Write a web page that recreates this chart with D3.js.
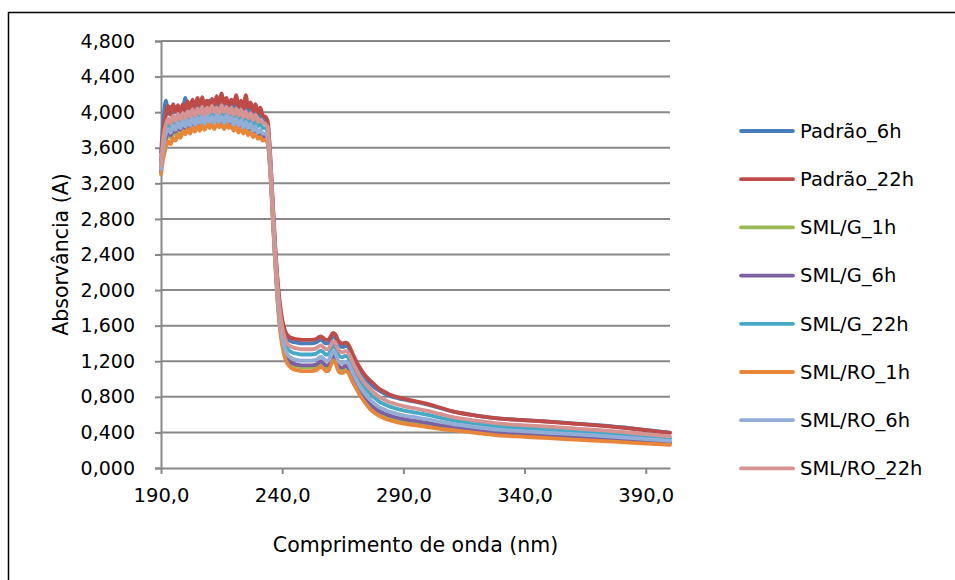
<!DOCTYPE html>
<html>
<head>
<meta charset="utf-8">
<script src="https://cdn.jsdelivr.net/npm/d3@7"></script>
<style>
  html, body { margin: 0; padding: 0; background: #fff; }
  svg { display: block; }
  text { font-family: "DejaVu Sans", sans-serif; fill: #000; }
</style>
</head>
<body>
<svg id="chart" width="955" height="580"></svg>
<script>
// Wavelength grid (nm), shared by every series
const wavelengths = [
  190,191,192,193,194,195,196,197,198,199,200,201,202,203,204,205,206,207,208,209,
  210,211,212,213,214,215,216,217,218,219,220,221,222,223,224,225,226,227,228,229,
  230,231,232,233,234,
  235,236,237,238,239,240,241,242,244,246,248,250,252,254,
  255,256,257,258,259,260,261,262,263,264,265,266,267,268,269,270,
  272,274,276,278,280,282,284,286,290,295,300,305,310,
  320,330,340,350,360,370,380,390,400
];

const seriesNames = ["Padrão_6h","Padrão_22h","SML/G_1h","SML/G_6h","SML/G_22h","SML/RO_1h","SML/RO_6h","SML/RO_22h"];
const seriesColors = ["#4A7EBB","#BE4B48","#98B954","#7D60A0","#46AAC5","#E8873A","#93AED6","#D69391"];

// Absorbance values (A), one array per sample
const padrao6h = [
  3.55,3.90,4.13,3.98,4.06,3.99,4.04,3.97,4.05,4.00,4.16,4.03,4.07,4.00,4.09,4.03,4.11,4.04,4.12,4.05,
  4.13,4.06,4.10,4.04,4.14,4.07,4.11,4.05,4.12,4.03,4.13,4.04,4.10,4.02,4.11,4.01,4.07,3.99,4.06,3.97,
  4.02,3.95,3.95,3.91,3.87,
  3.53,3.03,2.53,2.12,1.83,1.64,1.53,1.46,1.42,1.41,1.40,1.40,1.40,1.41,
  1.43,1.44,1.42,1.40,1.40,1.44,1.49,1.46,1.40,1.37,1.36,1.37,1.37,1.32,1.26,1.20,
  1.10,1.02,0.955,0.905,0.87,0.84,0.815,0.795,0.77,0.745,0.712,0.675,0.637,
  0.59,0.556,0.539,0.522,0.502,0.482,0.458,0.428,0.398
];
const padrao22h = [
  3.45,3.80,3.96,4.07,3.97,4.09,4.01,4.08,3.99,4.09,4.02,4.12,4.04,4.14,4.05,4.16,4.08,4.17,4.07,4.13,
  4.06,4.15,4.09,4.18,4.08,4.21,4.10,4.16,4.07,4.14,4.09,4.19,4.06,4.13,4.04,4.19,4.05,4.11,4.01,4.09,
  3.99,4.05,3.96,3.95,3.90,
  3.55,3.05,2.55,2.15,1.86,1.67,1.56,1.50,1.46,1.45,1.44,1.44,1.44,1.45,
  1.47,1.48,1.46,1.44,1.44,1.48,1.52,1.50,1.44,1.41,1.40,1.41,1.40,1.35,1.29,1.23,
  1.13,1.05,0.99,0.94,0.89,0.86,0.83,0.81,0.78,0.75,0.72,0.68,0.64,
  0.59,0.555,0.537,0.52,0.50,0.48,0.455,0.425,0.395
];
const smlG1h = [
  3.32,3.55,3.68,3.74,3.71,3.77,3.75,3.80,3.77,3.83,3.79,3.84,3.80,3.86,3.82,3.87,3.83,3.89,3.84,3.90,
  3.85,3.90,3.84,3.91,3.86,3.89,3.84,3.90,3.85,3.88,3.83,3.87,3.81,3.85,3.80,3.83,3.78,3.81,3.75,3.78,
  3.73,3.75,3.71,3.71,3.67,
  3.37,2.87,2.37,1.93,1.614,1.415,1.287,1.218,1.161,1.142,1.132,1.132,1.132,1.142,
  1.162,1.181,1.161,1.132,1.132,1.19,1.247,1.218,1.141,1.111,1.11,1.128,1.118,1.068,1.008,0.957,
  0.857,0.777,0.708,0.658,0.622,0.596,0.575,0.559,0.534,0.512,0.491,0.469,0.451,
  0.418,0.388,0.372,0.357,0.342,0.326,0.31,0.293,0.276
];
const smlG6h = [
  3.34,3.58,3.71,3.77,3.74,3.80,3.78,3.83,3.80,3.86,3.82,3.87,3.83,3.89,3.85,3.90,3.86,3.91,3.86,3.92,
  3.87,3.92,3.86,3.93,3.88,3.91,3.86,3.92,3.87,3.90,3.85,3.89,3.83,3.87,3.82,3.85,3.80,3.83,3.77,3.80,
  3.75,3.77,3.73,3.73,3.69,
  3.39,2.89,2.39,1.945,1.63,1.432,1.306,1.238,1.181,1.163,1.153,1.153,1.153,1.163,
  1.183,1.201,1.181,1.153,1.153,1.209,1.266,1.238,1.161,1.131,1.129,1.148,1.138,1.088,1.028,0.976,
  0.876,0.796,0.728,0.678,0.64,0.614,0.592,0.576,0.55,0.529,0.507,0.483,0.464,
  0.43,0.399,0.384,0.368,0.352,0.337,0.32,0.302,0.284
];
const smlG22h = [
  3.38,3.68,3.81,3.87,3.82,3.91,3.86,3.93,3.87,3.95,3.89,3.97,3.91,3.99,3.92,4.00,3.93,4.02,3.94,4.03,
  3.95,4.00,3.93,4.02,3.95,4.01,3.94,4.03,3.95,4.00,3.92,3.99,3.91,3.98,3.90,3.96,3.88,3.94,3.86,3.91,
  3.84,3.87,3.82,3.82,3.78,
  3.46,2.96,2.46,2.03,1.73,1.534,1.414,1.35,1.30,1.286,1.276,1.276,1.276,1.286,
  1.306,1.32,1.30,1.276,1.276,1.325,1.374,1.35,1.28,1.25,1.245,1.26,1.25,1.20,1.14,1.084,
  0.984,0.904,0.84,0.79,0.747,0.719,0.694,0.676,0.648,0.623,0.598,0.567,0.539,
  0.498,0.465,0.449,0.433,0.415,0.398,0.377,0.355,0.332
];
const smlRO1h = [
  3.30,3.49,3.60,3.67,3.64,3.71,3.68,3.75,3.71,3.78,3.75,3.81,3.76,3.83,3.78,3.85,3.79,3.86,3.80,3.87,
  3.82,3.88,3.81,3.88,3.83,3.86,3.81,3.87,3.82,3.85,3.79,3.84,3.77,3.82,3.76,3.80,3.74,3.78,3.72,3.75,
  3.70,3.72,3.68,3.69,3.65,
  3.35,2.85,2.35,1.90,1.58,1.38,1.25,1.18,1.12,1.10,1.09,1.09,1.09,1.10,
  1.12,1.14,1.12,1.09,1.09,1.15,1.21,1.18,1.10,1.07,1.07,1.09,1.08,1.03,0.97,0.92,
  0.82,0.74,0.67,0.62,0.585,0.56,0.54,0.525,0.50,0.48,0.46,0.44,0.425,
  0.395,0.365,0.35,0.335,0.32,0.305,0.29,0.275,0.26
];
const smlRO6h = [
  3.36,3.62,3.76,3.81,3.77,3.85,3.80,3.88,3.82,3.90,3.84,3.91,3.85,3.93,3.86,3.94,3.88,3.95,3.87,3.96,
  3.89,3.95,3.88,3.97,3.89,3.95,3.88,3.96,3.89,3.94,3.86,3.93,3.85,3.91,3.83,3.89,3.82,3.87,3.79,3.84,
  3.77,3.80,3.76,3.76,3.72,
  3.42,2.92,2.42,1.98,1.67,1.476,1.35,1.286,1.232,1.216,1.206,1.206,1.206,1.216,
  1.236,1.252,1.232,1.206,1.206,1.259,1.31,1.286,1.212,1.182,1.179,1.196,1.186,1.136,1.076,1.02,
  0.92,0.84,0.776,0.726,0.685,0.66,0.636,0.619,0.592,0.569,0.546,0.52,0.496,
  0.459,0.428,0.412,0.396,0.38,0.363,0.345,0.325,0.305
];
const smlRO22h = [
  3.40,3.72,3.86,3.93,3.87,3.96,3.90,3.98,3.92,3.99,3.93,4.01,3.95,4.03,3.96,4.04,3.98,4.06,3.97,4.05,
  3.99,4.07,4.00,4.05,3.98,4.08,4.00,4.06,3.98,4.05,3.97,4.04,3.96,4.03,3.94,4.01,3.93,3.99,3.91,3.97,
  3.89,3.92,3.88,3.87,3.83,
  3.49,2.99,2.49,2.075,1.78,1.58,1.47,1.40,1.36,1.345,1.335,1.335,1.335,1.345,
  1.365,1.378,1.358,1.335,1.335,1.38,1.427,1.404,1.338,1.308,1.30,1.314,1.304,1.254,1.194,1.137,
  1.037,0.957,0.894,0.844,0.80,0.77,0.743,0.725,0.696,0.67,0.642,0.608,0.575,
  0.532,0.498,0.48,0.465,0.446,0.427,0.406,0.38,0.355
];

const seriesValues = [padrao6h, padrao22h, smlG1h, smlG6h, smlG22h, smlRO1h, smlRO6h, smlRO22h];

const yTicks = [0,0.4,0.8,1.2,1.6,2.0,2.4,2.8,3.2,3.6,4.0,4.4,4.8];
const xTicks = [190,240,290,340,390];

const fmtY = v => d3.format(".3f")(v).replace(".", ",");
const fmtX = v => d3.format(".1f")(v).replace(".", ",");

const svg = d3.select("#chart");
const plot = { left: 161, right: 670, top: 41, bottom: 468 };
const gridColor = "#888888";

// Outer chart frame
svg.append("rect")
  .attr("x", 8.5).attr("y", 12.5)
  .attr("width", 960).attr("height", 580)
  .attr("fill", "none").attr("stroke", "#000").attr("stroke-width", 1.5);

const x = d3.scaleLinear().domain([190, 400]).range([plot.left, plot.right]);
const y = d3.scaleLinear().domain([0, 4.8]).range([plot.bottom, plot.top]);

// Horizontal gridlines
svg.append("g")
  .selectAll("line")
  .data(yTicks.slice(1))
  .join("line")
  .attr("x1", plot.left).attr("x2", plot.right)
  .attr("y1", d => y(d)).attr("y2", d => y(d))
  .attr("stroke", gridColor).attr("stroke-width", 2);

// Y axis
const yAxis = svg.append("g")
  .attr("transform", `translate(${plot.left},0)`)
  .call(d3.axisLeft(y).tickValues(yTicks).tickFormat(fmtY).tickSize(6).tickPadding(20));
yAxis.select(".domain").attr("stroke", gridColor).attr("stroke-width", 2);
yAxis.selectAll(".tick line").attr("stroke", gridColor).attr("stroke-width", 2);
yAxis.selectAll(".tick text").attr("font-size", 19).attr("font-family", "DejaVu Sans").attr("fill", "#000");

// X axis
const xAxis = svg.append("g")
  .attr("transform", `translate(0,${plot.bottom})`)
  .call(d3.axisBottom(x).tickValues(xTicks).tickFormat(fmtX).tickSizeInner(6).tickSizeOuter(0).tickPadding(14));
xAxis.select(".domain").attr("stroke", gridColor).attr("stroke-width", 2);
xAxis.selectAll(".tick line").attr("stroke", gridColor).attr("stroke-width", 2);
xAxis.selectAll(".tick text").attr("font-size", 19.5).attr("font-family", "DejaVu Sans").attr("fill", "#000");

// Axis titles
svg.append("text")
  .attr("x", (plot.left + plot.right) / 2).attr("y", 552)
  .attr("text-anchor", "middle").attr("font-size", 20.5)
  .text("Comprimento de onda (nm)");
svg.append("text")
  .attr("transform", `translate(68,${(plot.top + plot.bottom) / 2}) rotate(-90)`)
  .attr("text-anchor", "middle").attr("font-size", 20.5)
  .text("Absorvância (A)");

// Spectra
const line = d3.line()
  .x(d => x(d[0]))
  .y(d => y(d[1]))
  .curve(d3.curveMonotoneX);

svg.append("g")
  .selectAll("path")
  .data(seriesValues.map((vals, i) => ({ name: seriesNames[i], color: seriesColors[i], pts: wavelengths.map((w, j) => [w, vals[j]]) })))
  .join("path")
  .attr("d", d => line(d.pts))
  .attr("fill", "none")
  .attr("stroke", d => d.color)
  .attr("stroke-width", 3.8)
  .attr("stroke-linejoin", "round")
  .attr("stroke-linecap", "round");

// Legend
const legend = svg.append("g")
  .selectAll("g")
  .data(seriesNames)
  .join("g")
  .attr("transform", (d, i) => `translate(741,${131 + i * 48.2})`);
legend.append("line")
  .attr("x1", 0).attr("x2", 52)
  .attr("stroke", (d, i) => seriesColors[i])
  .attr("stroke-width", 3.8)
  .attr("stroke-linecap", "round");
legend.append("text")
  .attr("x", 59).attr("dy", "0.35em")
  .attr("font-size", 19.5)
  .text(d => d);
</script>
</body>
</html>
